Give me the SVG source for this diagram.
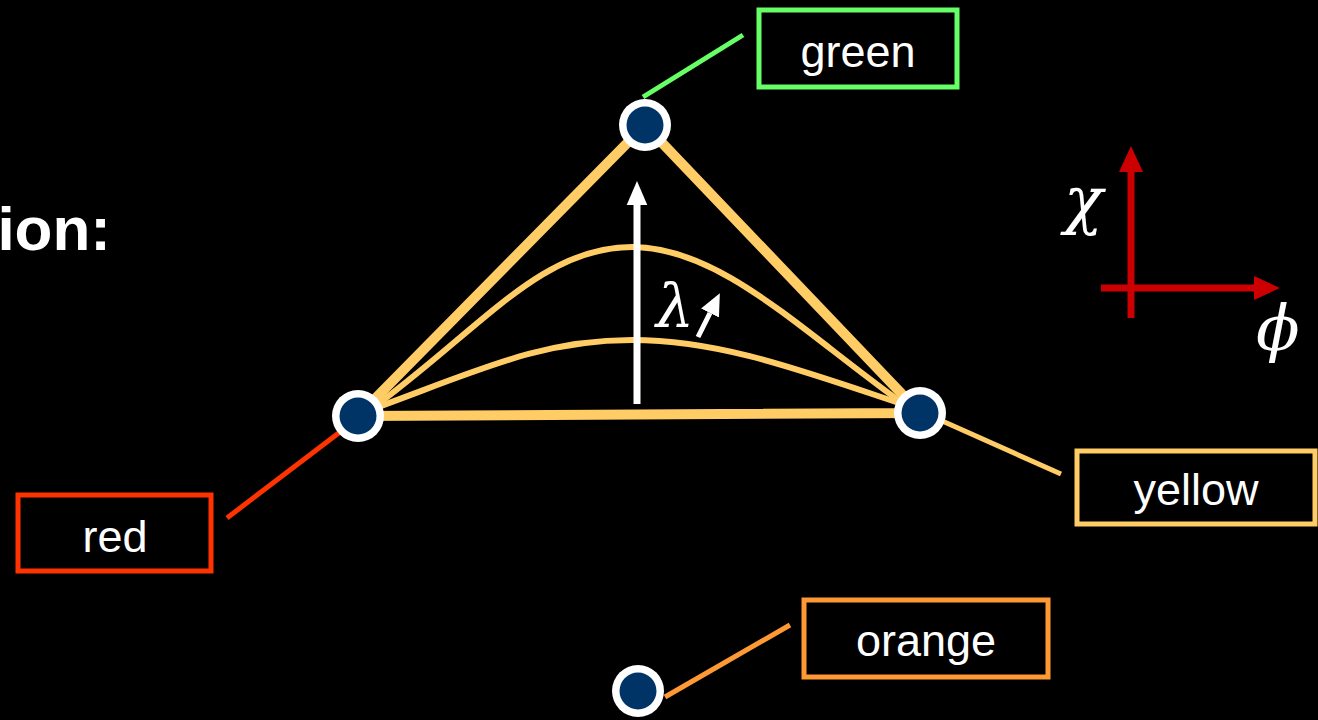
<svg xmlns="http://www.w3.org/2000/svg" width="1318" height="720" viewBox="0 0 1318 720">
<defs>
<style>
.lbl{font-family:"Liberation Sans",Arial,sans-serif;font-size:45px;fill:#fff;text-anchor:middle}
.box{fill:none;stroke-width:5}
.node .o{fill:#fff}
.node .i{fill:#003366}
.math{font-family:"DejaVu Serif","Liberation Serif",serif;font-style:italic;fill:#fff}
</style>
<marker id="wh" markerUnits="userSpaceOnUse" markerWidth="24" markerHeight="30" refX="0" refY="12" orient="auto" viewBox="0 0 28 24"><path d="M0,0 L28,12 L0,24 Z" fill="#fff"/></marker>
<marker id="wh2" markerUnits="userSpaceOnUse" markerWidth="22" markerHeight="22" refX="0" refY="10" orient="auto" viewBox="0 0 22 20"><path d="M0,0 L22,10 L0,20 Z" fill="#fff"/></marker>
<marker id="rd" markerUnits="userSpaceOnUse" markerWidth="26" markerHeight="24" refX="0" refY="12" orient="auto" viewBox="0 0 26 24"><path d="M0,0 L26,12 L0,24 Z" fill="#CC0000"/></marker>
</defs>
<rect width="1318" height="720" fill="#000"/>
<text x="111" y="250" font-family="'Liberation Sans',Arial,sans-serif" font-weight="bold" font-size="62" fill="#fff" text-anchor="end">ion:</text>

<g id="connectors">
<line x1="643" y1="97" x2="743" y2="35" stroke="#66FF66" stroke-width="5"/>
<line x1="227" y1="518" x2="340" y2="432" stroke="#FF3300" stroke-width="5"/>
<line x1="940" y1="420" x2="1061" y2="474" stroke="#FFCC66" stroke-width="5"/>
<line x1="665" y1="697" x2="790" y2="625" stroke="#FF9933" stroke-width="5"/>
<g fill="none" stroke="#FFCC66">
<path d="M358,416 L645,125 L920,413 Z" stroke-width="10" stroke-linejoin="round"/>
<path d="M370,410 C480,330 540,247 632,247 C720,247 800,330 905,405" stroke-width="6"/>
<path d="M370,410 C480,370 540,340 632,340 C720,340 800,370 905,405" stroke-width="6"/>
</g>
<line x1="637" y1="404" x2="637" y2="205" stroke="#fff" stroke-width="7" marker-end="url(#wh)"/>
<line x1="698" y1="337" x2="710" y2="313" stroke="#fff" stroke-width="5" marker-end="url(#wh2)"/>
<line x1="1131" y1="318" x2="1131" y2="172" stroke="#CC0000" stroke-width="7" marker-end="url(#rd)"/>
<line x1="1101" y1="288" x2="1254" y2="288" stroke="#CC0000" stroke-width="7" marker-end="url(#rd)"/>
</g>
<text class="math" x="656" y="327" font-size="60">λ</text>
<text class="math" x="1064" y="222" font-size="64">χ</text>
<text class="math" x="1256" y="350" font-size="64">ϕ</text>

<g id="node-top" class="node"><circle class="o" cx="645" cy="125" r="26"/><circle class="i" cx="645" cy="125" r="18.5"/></g>
<g id="node-left" class="node"><circle class="o" cx="358" cy="416" r="26"/><circle class="i" cx="358" cy="416" r="18.5"/></g>
<g id="node-right" class="node"><circle class="o" cx="920" cy="413" r="26"/><circle class="i" cx="920" cy="413" r="18.5"/></g>
<g id="node-bottom" class="node"><circle class="o" cx="638" cy="691" r="26"/><circle class="i" cx="638" cy="691" r="18.5"/></g>

<g id="label-green"><rect class="box" x="759" y="10" width="198" height="77" stroke="#66FF66"/><text class="lbl" x="858" y="67">green</text></g>
<g id="label-red"><rect class="box" x="18" y="495" width="193" height="76" stroke="#FF3300"/><text class="lbl" x="115" y="552">red</text></g>
<g id="label-yellow"><rect class="box" x="1077" y="451" width="238" height="73" stroke="#FFCC66"/><text class="lbl" x="1196" y="505">yellow</text></g>
<g id="label-orange"><rect class="box" x="804" y="600" width="244" height="77" stroke="#FF9933"/><text class="lbl" x="926" y="656">orange</text></g>
</svg>
